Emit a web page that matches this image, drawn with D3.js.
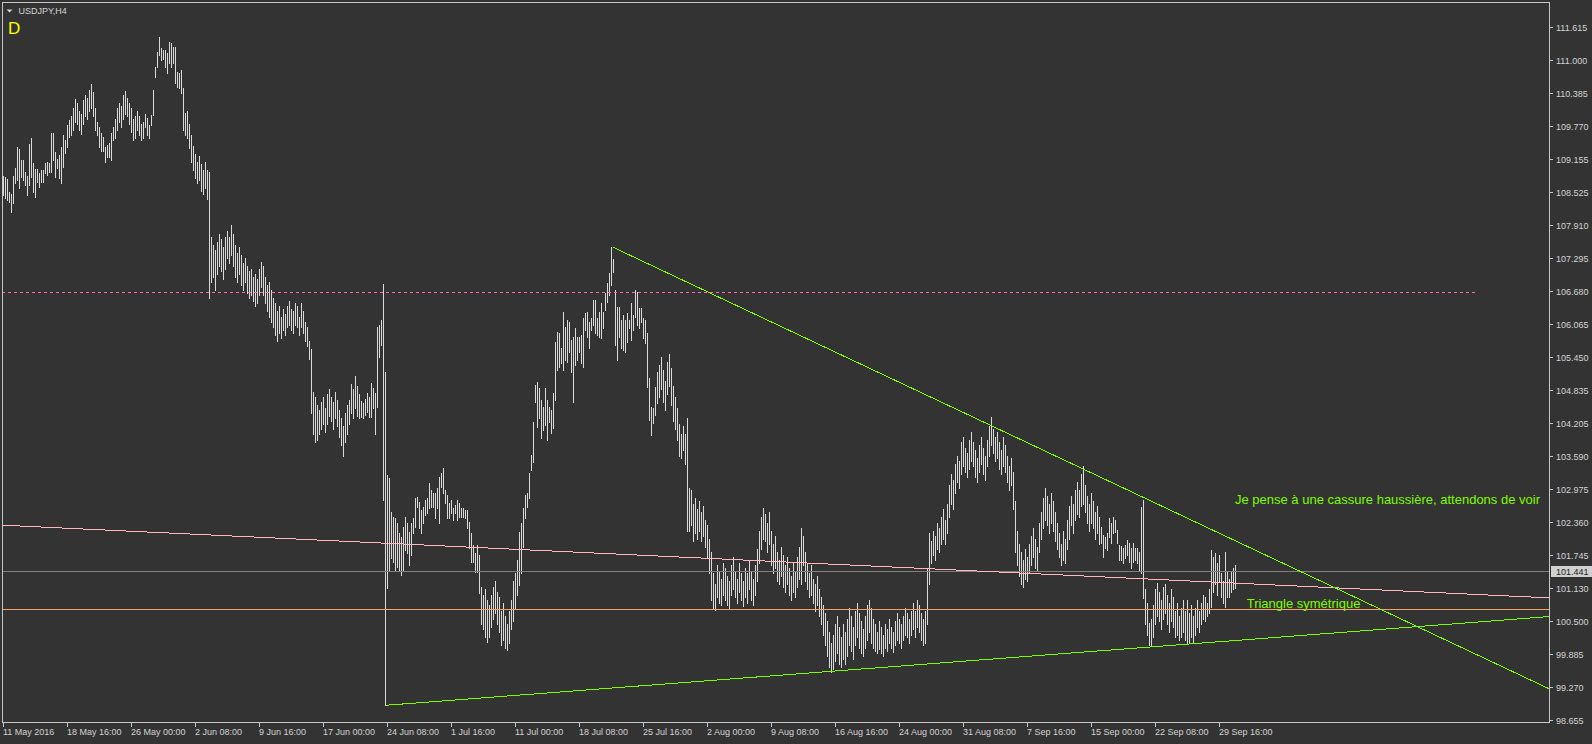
<!DOCTYPE html>
<html><head><meta charset="utf-8">
<script src="https://cdn.jsdelivr.net/npm/d3@7"></script>
<style>html,body{margin:0;padding:0;background:#333333;overflow:hidden}svg{display:block}</style>
</head><body>
<svg id="chart" width="1592" height="744"></svg>
<script>
// ---------------- DATA ----------------
const chartTitle = "USDJPY,H4";
const periodMark = "D";
const timeLabels = ["11 May 2016","18 May 16:00","26 May 00:00","2 Jun 08:00","9 Jun 16:00","17 Jun 00:00","24 Jun 08:00","1 Jul 16:00","11 Jul 00:00","18 Jul 08:00","25 Jul 16:00","2 Aug 00:00","9 Aug 08:00","16 Aug 16:00","24 Aug 00:00","31 Aug 08:00","7 Sep 16:00","15 Sep 00:00","22 Sep 08:00","29 Sep 16:00"];
const timeLabelBars = [0,32,64,96,128,160,192,224,256,288,320,352,384,416,448,480,512,544,576,608];
const priceTicks = [111.615,111.000,110.385,109.770,109.155,108.525,107.910,107.295,106.680,106.065,105.450,104.835,104.205,103.590,102.975,102.360,101.745,101.130,100.500,99.885,99.270,98.655];
const priceTickLabels = ["111.615","111.000","110.385","109.770","109.155","108.525","107.910","107.295","106.680","106.065","105.450","104.835","104.205","103.590","102.975","102.360","101.745","101.130","100.500","99.885","99.270","98.655"];

// H4 bar highs (bar 0 = 11 May 2016 00:00)
const highs = [
108.83,108.81,108.78,108.53,108.50,108.83,108.98,109.38,109.34,109.13,
109.13,108.91,108.83,109.43,109.54,109.08,108.96,108.96,108.89,108.95,
108.95,109.08,109.10,109.08,109.64,109.64,109.28,109.15,109.23,109.38,
109.60,109.51,109.79,109.88,109.95,110.10,110.28,110.20,110.05,110.00,
110.25,110.35,110.30,110.45,110.55,110.40,110.10,109.85,109.75,109.64,
109.56,109.38,109.41,109.45,109.64,109.75,109.90,110.10,110.20,110.15,
110.35,110.42,110.30,110.20,110.10,109.90,109.95,110.05,109.95,109.80,
109.84,109.99,109.92,109.79,109.97,110.44,110.87,111.15,111.43,111.23,
111.19,111.19,111.13,111.34,111.32,111.25,111.25,110.78,110.76,110.82,
110.48,110.01,110.05,109.80,109.60,109.40,109.25,109.10,109.20,109.05,
108.95,109.10,108.95,108.90,107.70,107.55,107.45,107.60,107.75,107.65,
107.50,107.70,107.80,107.70,107.92,107.75,107.55,107.40,107.50,107.35,
107.20,107.30,107.15,107.05,107.10,106.95,107.00,106.90,107.10,107.22,
107.15,106.95,106.80,106.85,106.70,106.55,106.45,106.30,106.40,106.20,
106.35,106.25,106.40,106.50,106.35,106.30,106.45,106.40,106.20,106.45,
106.30,106.10,106.00,105.75,105.60,104.80,104.70,104.55,104.45,104.60,
104.70,104.50,104.75,104.85,104.70,104.60,104.80,104.65,104.45,104.30,
104.15,104.40,104.55,104.65,104.95,104.85,105.10,104.90,104.75,104.63,
104.58,104.66,104.77,104.70,104.96,104.87,104.77,106.01,106.05,106.14,
106.81,105.16,103.24,103.18,102.55,102.45,102.43,102.34,102.15,102.08,
102.27,102.45,102.34,102.17,102.34,102.43,102.81,102.83,102.73,102.58,
102.64,102.77,102.81,103.09,102.96,102.90,102.90,103.00,103.20,103.27,
103.37,102.96,102.86,102.71,102.77,102.62,102.68,102.77,102.71,102.62,
102.62,102.58,102.58,102.36,102.15,101.93,101.78,101.93,101.74,101.14,
101.00,101.10,100.90,100.80,101.00,101.15,101.25,101.05,100.95,100.70,
100.85,100.60,100.45,100.70,100.90,101.25,101.40,101.65,102.17,102.34,
102.62,102.86,102.90,103.27,103.61,104.23,104.92,104.98,104.87,104.64,
104.51,104.87,104.64,104.51,104.45,104.77,105.73,105.91,105.89,105.61,
106.29,106.01,106.14,106.10,105.76,105.82,105.99,105.82,105.82,105.86,
106.18,106.27,106.29,106.10,106.18,106.51,106.51,106.18,106.29,106.46,
106.29,106.64,106.83,107.02,107.50,107.28,106.70,106.38,106.38,106.14,
106.23,106.14,106.27,106.14,106.46,106.23,106.70,106.66,106.36,106.36,
106.18,106.14,105.89,105.05,104.51,104.49,104.88,105.16,105.30,105.45,
105.20,105.00,105.35,105.50,105.25,104.90,104.70,104.50,104.20,104.00,
104.15,104.00,104.30,103.00,102.95,102.70,102.80,102.60,102.75,102.55,
102.65,102.40,102.30,102.05,101.80,101.40,101.20,101.55,101.45,101.30,
101.60,101.50,101.35,101.25,101.55,101.70,101.45,101.30,101.60,101.40,
101.25,101.50,101.40,101.65,101.45,101.30,101.55,101.85,102.20,102.45,
102.63,102.50,102.35,102.55,102.20,101.95,102.10,101.80,101.65,101.90,
101.75,101.55,101.70,101.50,101.35,101.60,101.45,101.70,101.90,102.25,
102.10,101.80,101.60,101.40,101.55,101.30,101.20,101.35,101.10,100.95,
100.80,100.65,100.50,100.30,100.10,100.25,100.45,100.60,100.40,100.20,
100.45,100.30,100.55,100.75,100.60,100.40,100.70,100.85,100.65,100.50,
100.35,100.60,100.80,100.90,100.75,100.55,100.45,100.30,100.50,100.40,
100.25,100.45,100.35,100.55,100.40,100.30,100.50,100.65,100.55,100.45,
100.60,100.75,100.65,100.55,100.70,100.85,100.70,100.90,100.80,100.65,
100.55,100.70,101.50,102.15,102.00,102.20,102.10,102.35,102.25,102.45,
102.60,102.40,102.70,103.05,103.25,103.15,103.45,103.60,103.50,103.85,
103.95,103.75,103.65,103.90,104.05,103.85,103.70,103.55,103.80,103.95,
103.75,103.60,103.90,104.15,104.32,104.10,103.95,104.05,103.85,103.70,
103.95,103.80,103.60,103.40,103.55,103.30,102.75,102.20,101.95,101.80,
101.65,101.85,101.70,101.95,102.10,102.25,102.05,101.90,102.35,102.55,
102.80,103.00,102.85,102.70,102.90,102.75,102.55,102.35,102.15,101.95,
102.20,102.05,102.40,102.65,102.85,102.70,102.95,103.10,102.95,103.25,
103.40,103.05,102.85,102.70,102.90,102.75,102.55,102.65,102.45,102.27,
102.12,102.08,102.15,102.43,102.34,102.45,102.40,102.21,101.93,101.91,
101.87,101.93,102.02,101.97,101.87,101.97,101.87,101.87,101.80,102.64,
102.77,101.10,100.85,100.47,100.55,100.80,101.10,101.22,101.05,100.90,
101.15,101.20,101.00,100.85,101.10,100.95,100.70,100.85,100.60,100.75,
100.90,100.70,100.90,100.65,100.80,100.60,100.75,100.90,100.70,100.85,
101.00,100.95,100.85,101.10,101.84,101.70,101.78,101.60,101.75,101.40,
101.25,101.80,101.45,101.30,101.45,101.50,101.55
];
// H4 bar lows
const lows = [
108.48,108.42,108.38,108.35,108.16,108.33,108.70,108.76,108.61,108.81,
108.76,108.66,108.48,108.66,108.81,108.53,108.44,108.72,108.63,108.72,
108.72,108.89,108.85,108.91,108.91,109.13,108.81,108.98,108.79,108.70,
109.00,109.26,109.38,109.56,109.60,109.70,109.85,109.80,109.70,109.62,
109.80,109.95,109.90,110.05,110.10,109.95,109.70,109.60,109.38,109.30,
109.30,109.10,109.19,109.19,109.13,109.51,109.55,109.70,109.85,109.75,
109.90,110.00,109.95,109.80,109.65,109.50,109.55,109.70,109.60,109.50,
109.55,109.75,109.60,109.55,109.79,109.97,110.68,110.87,111.10,111.00,
111.02,110.87,110.76,110.95,110.87,110.95,110.57,110.50,110.48,110.39,
109.70,109.60,109.55,109.35,109.10,108.95,108.80,108.70,108.75,108.55,
108.50,108.60,108.40,106.55,106.85,106.95,106.70,107.00,107.15,107.05,
106.90,107.10,107.30,107.20,107.35,107.15,106.95,106.85,107.00,106.80,
106.70,106.85,106.65,106.55,106.60,106.50,106.40,106.45,106.60,106.75,
106.60,106.45,106.30,106.20,106.10,106.00,105.85,105.75,105.90,105.80,
105.95,105.85,106.00,106.05,105.95,105.90,106.05,106.00,105.85,106.00,
105.90,105.75,105.65,105.40,104.40,104.00,103.85,103.90,104.00,104.10,
104.20,104.05,104.20,104.35,104.25,104.10,104.30,104.15,103.95,103.80,
103.60,103.85,104.00,104.20,104.40,104.30,104.50,104.35,104.30,104.33,
104.30,104.36,104.42,104.32,104.32,104.49,104.00,104.51,105.45,105.67,
102.77,98.93,101.12,101.46,101.68,101.61,101.46,101.52,101.46,101.37,
101.46,101.84,101.78,101.55,101.74,102.15,102.27,102.64,102.25,102.15,
102.34,102.49,102.53,102.62,102.64,102.64,102.43,102.62,102.34,103.01,
102.90,102.71,102.43,102.43,102.53,102.39,102.53,102.39,102.45,102.45,
102.45,102.43,102.25,101.87,101.61,101.61,101.42,101.42,101.03,100.45,
100.35,100.20,100.12,100.20,100.40,100.55,100.65,100.45,100.30,100.05,
100.15,100.00,99.96,100.10,100.35,100.50,100.75,101.00,101.18,101.41,
101.89,102.43,102.64,102.81,103.33,103.48,104.60,104.14,104.30,103.93,
104.08,104.17,103.89,104.23,104.02,104.12,104.64,105.20,105.26,105.33,
105.20,105.39,105.35,105.54,105.16,104.60,105.30,105.39,105.54,105.33,
105.26,105.95,105.82,105.61,105.95,106.05,105.89,105.86,105.82,105.80,
105.99,106.33,106.48,106.61,106.80,107.04,105.67,105.39,105.82,105.61,
105.58,105.54,105.73,105.99,105.76,105.95,106.20,106.05,105.99,106.10,
105.80,105.71,104.88,104.27,103.99,104.21,104.36,104.58,104.70,104.85,
104.60,104.45,104.75,104.90,104.55,104.25,104.10,103.90,103.60,103.55,
103.70,103.45,102.20,102.20,102.30,102.00,102.15,102.05,102.20,102.00,
102.10,101.90,101.70,101.40,100.90,100.75,100.72,100.95,100.85,100.80,
101.00,100.90,100.80,100.75,101.00,101.10,100.95,100.85,101.05,100.90,
100.78,100.95,100.85,101.10,100.90,100.80,101.00,101.25,101.60,101.85,
102.05,102.00,101.80,101.95,101.55,101.40,101.50,101.25,101.20,101.35,
101.15,101.05,101.20,101.00,100.90,101.05,100.95,101.15,101.30,101.20,
101.55,101.25,101.10,100.95,101.00,100.85,100.70,100.80,100.60,100.45,
100.25,100.05,99.85,99.65,99.55,99.60,99.75,99.90,99.70,99.65,
99.80,99.70,99.85,100.05,99.95,99.80,100.05,100.20,100.00,99.90,
99.85,100.00,100.15,100.30,100.10,100.00,99.95,99.90,99.98,99.90,
99.85,100.00,99.95,100.10,100.00,99.92,100.05,100.15,100.10,100.00,
100.15,100.25,100.20,100.10,100.25,100.35,100.20,100.40,100.30,100.15,
100.05,100.10,100.45,101.20,101.60,101.75,101.65,101.85,101.80,101.95,
102.05,101.95,102.15,102.45,102.70,102.60,102.90,103.10,103.00,103.25,
103.40,103.30,103.20,103.35,103.50,103.40,103.20,103.10,103.30,103.45,
103.25,103.15,103.40,103.60,103.80,103.65,103.50,103.55,103.35,103.25,
103.40,103.30,103.10,102.95,103.05,102.60,101.80,101.55,101.35,101.20,
101.15,101.30,101.25,101.40,101.55,101.70,101.50,101.45,101.80,102.05,
102.25,102.40,102.30,102.15,102.35,102.20,102.00,101.85,101.70,101.55,
101.65,101.60,101.85,102.05,102.30,102.15,102.40,102.50,102.45,102.65,
102.70,102.55,102.35,102.20,102.35,102.25,102.05,102.15,101.95,101.97,
101.70,101.87,101.84,102.08,101.97,102.15,102.17,101.97,101.65,101.65,
101.59,101.69,101.74,101.61,101.50,101.61,101.65,101.59,101.46,101.41,
100.94,100.45,100.25,100.06,100.06,100.20,100.45,100.60,100.50,100.35,
100.55,100.65,100.45,100.30,100.50,100.40,100.20,100.25,100.15,100.20,
100.30,100.15,100.09,100.10,100.20,100.12,100.25,100.40,100.30,100.45,
100.55,100.50,100.60,100.65,100.77,101.05,101.20,101.00,101.25,100.95,
100.85,100.77,100.95,100.95,101.05,101.10,101.12
];

const bidPrice = 101.441;
const bidLabel = "101.441";
// horizontal levels
const orangeLevel = 100.73;
const dashedLevel = {bar0: -1, bar1: 735.75, price: 106.66};
// trend lines: [bar index, price]
const pinkTrend  = [[-0.75, 102.30], [772.75, 100.94]];
const greenDown  = [[304.75, 107.50], [772.75, 99.24]];
const greenUp    = [[191.0, 98.93], [772.75, 100.59]];
const noteText = "Je pense à une cassure haussière, attendons de voir";
const noteAnchor = [615.75, 102.70];
const triangleText = "Triangle symétrique";
const triangleAnchor = [621.6, 100.75];

// ---------------- DRAW ----------------
const W = 1592, H = 744;
const plot = {left: 2.5, top: 2.5, right: 1549.5, bottom: 722.5};
const FONT = "'Liberation Sans', Arial, sans-serif";

const x = d3.scaleLinear().domain([0, highs.length - 1]).range([3.5, 3.5 + 2 * (highs.length - 1)]);
const y = d3.scaleLinear().domain([98.655, 111.615]).range([720, 27.3]);

const svg = d3.select("#chart");
svg.append("rect").attr("width", W).attr("height", H).attr("fill", "#333333");

svg.append("clipPath").attr("id", "plotclip").append("rect")
  .attr("x", 3).attr("y", 3).attr("width", plot.right - 3.5).attr("height", plot.bottom - 3.5);

const g = svg.append("g").attr("clip-path", "url(#plotclip)");

// bars (high-low)
const bars = highs.map((h, i) => ({i, h, l: lows[i]}));
g.append("g").attr("shape-rendering", "crispEdges")
  .selectAll("line").data(bars).join("line")
  .attr("x1", d => x(d.i)).attr("x2", d => x(d.i))
  .attr("y1", d => Math.round(y(d.h)))
  .attr("y2", d => Math.round(y(d.l)) + 1)
  .attr("stroke", "#dadada").attr("stroke-width", 1);

const lineGen = d3.line().x(d => x(d[0])).y(d => y(d[1]));

// bid line
g.append("line").attr("x1", plot.left).attr("x2", plot.right)
  .attr("y1", Math.round(y(bidPrice)) + 0.5).attr("y2", Math.round(y(bidPrice)) + 0.5)
  .attr("stroke", "#7f7f7f").attr("shape-rendering", "crispEdges");
// orange level
g.append("line").attr("x1", plot.left).attr("x2", plot.right)
  .attr("y1", Math.round(y(orangeLevel)) + 0.5).attr("y2", Math.round(y(orangeLevel)) + 0.5)
  .attr("stroke", "#f4a460").attr("shape-rendering", "crispEdges");
// dashed resistance
g.append("line").attr("x1", x(dashedLevel.bar0)).attr("x2", x(dashedLevel.bar1))
  .attr("y1", Math.round(y(dashedLevel.price)) + 0.5).attr("y2", Math.round(y(dashedLevel.price)) + 0.5)
  .attr("stroke", "#ff69b4").attr("stroke-dasharray", "3,3").attr("shape-rendering", "crispEdges");

g.append("path").attr("d", lineGen(pinkTrend)).attr("fill", "none")
  .attr("stroke", "#ffb6c1").attr("stroke-width", 1).attr("shape-rendering", "crispEdges");
g.append("path").attr("d", lineGen(greenDown)).attr("fill", "none")
  .attr("stroke", "#7cfc00").attr("stroke-width", 1).attr("shape-rendering", "crispEdges");
g.append("path").attr("d", lineGen(greenUp)).attr("fill", "none")
  .attr("stroke", "#7cfc00").attr("stroke-width", 1).attr("shape-rendering", "crispEdges");

// annotation texts
svg.append("text").attr("x", x(noteAnchor[0])).attr("y", y(noteAnchor[1]))
  .attr("font-family", FONT).attr("font-size", 13).attr("fill", "#7cfc00").text(noteText);
svg.append("text").attr("x", x(triangleAnchor[0])).attr("y", y(triangleAnchor[1]))
  .attr("font-family", FONT).attr("font-size", 13).attr("fill", "#7cfc00").text(triangleText);

// frame
svg.append("rect").attr("x", plot.left).attr("y", plot.top)
  .attr("width", plot.right - plot.left).attr("height", plot.bottom - plot.top)
  .attr("fill", "none").attr("stroke", "#c8c8c8").attr("shape-rendering", "crispEdges");

// right price axis
const ya = svg.append("g");
priceTicks.forEach((p, k) => {
  const yy = Math.round(y(p)) + 0.5;
  ya.append("line").attr("x1", plot.right).attr("x2", plot.right + 3.5)
    .attr("y1", yy).attr("y2", yy).attr("stroke", "#c8c8c8").attr("shape-rendering", "crispEdges");
  ya.append("text").attr("x", 1556).attr("y", yy + 3.2)
    .attr("font-family", FONT).attr("font-size", 9).attr("fill", "#d4d4d4").text(priceTickLabels[k]);
});
// bid label box
const by = Math.round(y(bidPrice));
svg.append("rect").attr("x", 1551).attr("y", by - 5).attr("width", 41).attr("height", 11)
  .attr("fill", "#d0d0d0").attr("shape-rendering", "crispEdges");
svg.append("text").attr("x", 1556).attr("y", by + 3.7)
  .attr("font-family", FONT).attr("font-size", 9).attr("fill", "#202020").text(bidLabel);

// bottom time axis
const xa = svg.append("g");
timeLabels.forEach((t, k) => {
  const xx = Math.round(x(timeLabelBars[k]) - 0.5) + 0.5;
  xa.append("line").attr("x1", xx).attr("x2", xx).attr("y1", plot.bottom).attr("y2", plot.bottom + 4.5)
    .attr("stroke", "#c8c8c8").attr("shape-rendering", "crispEdges");
  xa.append("text").attr("x", xx - 0.5).attr("y", 734.5)
    .attr("font-family", FONT).attr("font-size", 9).attr("fill", "#d4d4d4").text(t);
});

// title
svg.append("path").attr("d", "M6.5,9.5 L12.5,9.5 L9.5,12.5 Z").attr("fill", "#d4d4d4");
svg.append("text").attr("x", 18.5).attr("y", 14).attr("font-family", FONT).attr("font-size", 9)
  .attr("fill", "#d4d4d4").text(chartTitle);
svg.append("text").attr("x", 8).attr("y", 34).attr("font-family", FONT).attr("font-size", 17)
  .attr("fill", "#ffff00").text(periodMark);
</script>
</body></html>
